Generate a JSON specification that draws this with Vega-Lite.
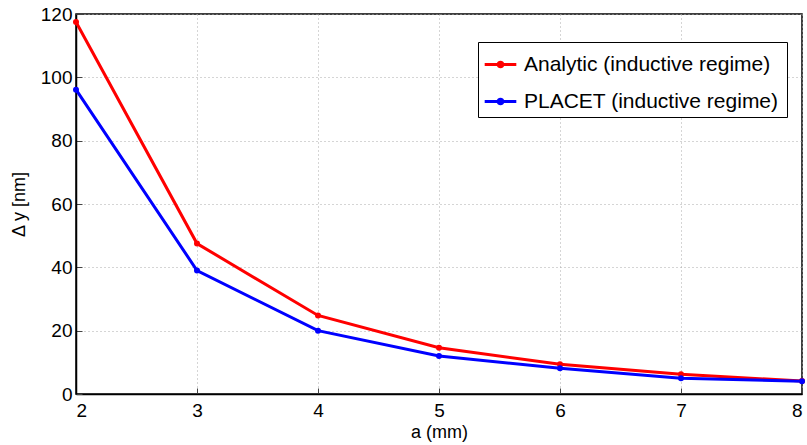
{
  "$schema": "https://vega.github.io/schema/vega-lite/v6.json",
  "width": 726,
  "height": 380,
  "autosize": {"type": "none"},
  "padding": {"left": 76, "top": 14, "right": 5, "bottom": 51},
  "background": "white",
  "config": {
    "font": "Liberation Sans",
    "view": {"stroke": "black", "strokeWidth": 1.5},
    "axis": {
      "domainColor": "black",
      "domainWidth": 1.5,
      "tickColor": "#444",
      "tickSize": -6,
      "labelColor": "black",
      "labelFont": "Liberation Sans",
      "labelFontSize": 19,
      "titleFont": "Liberation Sans",
      "titleFontSize": 18,
      "titleFontWeight": "normal",
      "titleColor": "black",
      "gridColor": "#aaa",
      "gridDash": [1, 3],
      "gridWidth": 1
    }
  },
  "data": {
    "values": [
      {"a": 2, "dy": 117.5, "series": "Analytic   (inductive regime)"},
      {"a": 3, "dy": 47.5, "series": "Analytic   (inductive regime)"},
      {"a": 4, "dy": 24.8, "series": "Analytic   (inductive regime)"},
      {"a": 5, "dy": 14.6, "series": "Analytic   (inductive regime)"},
      {"a": 6, "dy": 9.4, "series": "Analytic   (inductive regime)"},
      {"a": 7, "dy": 6.2, "series": "Analytic   (inductive regime)"},
      {"a": 8, "dy": 4.1, "series": "Analytic   (inductive regime)"},
      {"a": 2, "dy": 96.1, "series": "PLACET (inductive regime)"},
      {"a": 3, "dy": 39.0, "series": "PLACET (inductive regime)"},
      {"a": 4, "dy": 20.0, "series": "PLACET (inductive regime)"},
      {"a": 5, "dy": 12.0, "series": "PLACET (inductive regime)"},
      {"a": 6, "dy": 8.1, "series": "PLACET (inductive regime)"},
      {"a": 7, "dy": 5.0, "series": "PLACET (inductive regime)"},
      {"a": 8, "dy": 4.0, "series": "PLACET (inductive regime)"}
    ]
  },
  "mark": {"type": "line", "strokeWidth": 3, "point": {"filled": true, "size": 36}},
  "encoding": {
    "x": {
      "field": "a",
      "type": "quantitative",
      "scale": {"domain": [2, 8], "nice": false},
      "axis": {"values": [2, 3, 4, 5, 6, 7, 8], "title": "a (mm)", "labelPadding": 13, "titlePadding": 3, "grid": true}
    },
    "y": {
      "field": "dy",
      "type": "quantitative",
      "scale": {"domain": [0, 120], "nice": false},
      "axis": {"values": [0, 20, 40, 60, 80, 100, 120], "title": "Δ y [nm]", "labelPadding": 10, "titlePadding": 12, "grid": true}
    },
    "color": {
      "field": "series",
      "type": "nominal",
      "scale": {"domain": ["Analytic   (inductive regime)", "PLACET (inductive regime)"], "range": ["#ff0000", "#0000ff"]},
      "legend": {
        "title": null,
        "orient": "none",
        "legendX": 402,
        "legendY": 28,
        "direction": "vertical",
        "fillColor": "white",
        "strokeColor": "black",
        "padding": 5,
        "labelFont": "Liberation Sans",
        "labelFontSize": 21,
        "labelColor": "black",
        "labelLimit": 400,
        "labelOffset": 6,
        "rowPadding": 9,
        "symbolType": "M-1,0L1,0M-0.15,0A0.15,0.15 0 1,1 0.15,0A0.15,0.15 0 1,1 -0.15,0",
        "symbolSize": 1000,
        "symbolStrokeWidth": 3,
        "symbolFillColor": null
      }
    }
  }
}
